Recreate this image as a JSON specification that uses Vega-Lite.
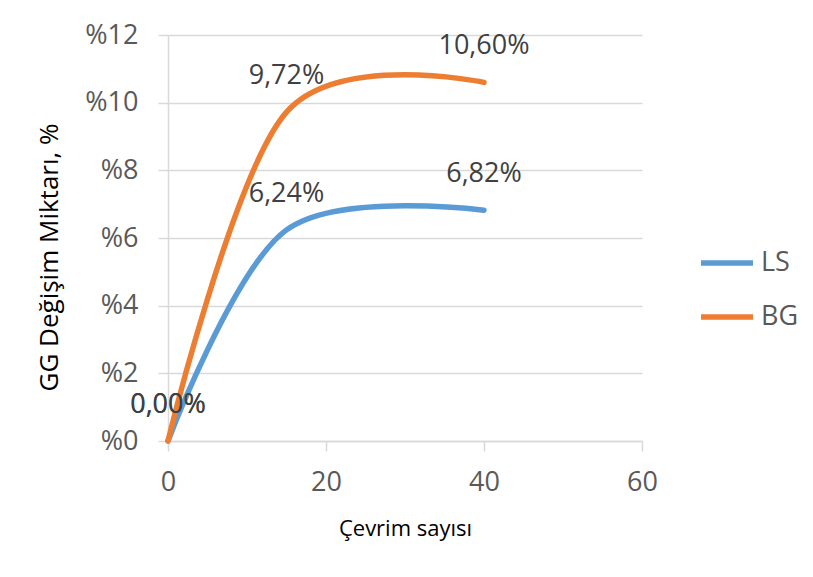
{
 "$schema": "https://vega.github.io/schema/vega-lite/v6.json",
 "width": 474,
 "height": 406,
 "autosize": {"type": "none"},
 "padding": {"left": 168, "top": 35, "right": 171, "bottom": 136},
 "background": "white",
 "config": {"view": {"stroke": null}, "font": "Open Sans"},
 "data": {"values": [
   {"series": "LS", "cycle": 0, "value": 0, "label": "0,00%"},
   {"series": "LS", "cycle": 15, "value": 6.24, "label": "6,24%"},
   {"series": "LS", "cycle": 40, "value": 6.82, "label": "6,82%"},
   {"series": "BG", "cycle": 0, "value": 0, "label": "0,00%"},
   {"series": "BG", "cycle": 15, "value": 9.72, "label": "9,72%"},
   {"series": "BG", "cycle": 40, "value": 10.60, "label": "10,60%"}
 ]},
 "encoding": {
   "x": {"field": "cycle", "type": "quantitative",
     "scale": {"domain": [0, 60], "nice": false},
     "axis": {"title": "Çevrim sayısı", "values": [0, 20, 40, 60], "grid": false,
       "domainColor": "#D9D9D9", "domainWidth": 1.5, "tickColor": "#D9D9D9", "tickWidth": 1.5, "tickSize": 10,
       "labelFontSize": 27, "labelColor": "#595959", "labelPadding": 18, "labelFlush": false,
       "titleFontSize": 22, "titleFontWeight": "normal", "titleColor": "#000000", "titlePadding": 23}},
   "y": {"field": "value", "type": "quantitative",
     "scale": {"domain": [0, 12], "nice": false},
     "axis": {"title": "GG Değişim Miktarı, %", "values": [0, 2, 4, 6, 8, 10, 12], "labelExpr": "'%' + datum.value",
       "grid": true, "gridColor": "#D9D9D9", "gridWidth": 1.5,
       "domainColor": "#D9D9D9", "domainWidth": 1.5, "tickColor": "#D9D9D9", "tickWidth": 1.5, "tickSize": 10,
       "labelFontSize": 27, "labelColor": "#595959", "labelPadding": 20, "labelFlush": false,
       "titleFontSize": 26, "titleFontWeight": "normal", "titleColor": "#000000", "titlePadding": 22, "titleY": 222}},
   "color": {"field": "series", "type": "nominal",
     "scale": {"domain": ["LS", "BG"], "range": ["#5B9BD5", "#ED7D31"]},
     "legend": {"orient": "none", "legendX": 530, "legendY": 199, "title": null, "symbolType": "stroke",
       "symbolStrokeWidth": 5.5, "symbolSize": 2700, "labelFontSize": 27, "labelColor": "#595959",
       "rowPadding": 12, "labelOffset": 5, "padding": 0}}
 },
 "layer": [
   {"mark": {"type": "line", "interpolate": "cardinal", "strokeWidth": 5.5, "strokeCap": "round"}},
   {"mark": {"type": "text", "dy": -36, "fontSize": 27, "baseline": "middle", "align": "center"},
    "encoding": {"text": {"field": "label"}, "color": {"value": "#404040"}}}
 ]
}
